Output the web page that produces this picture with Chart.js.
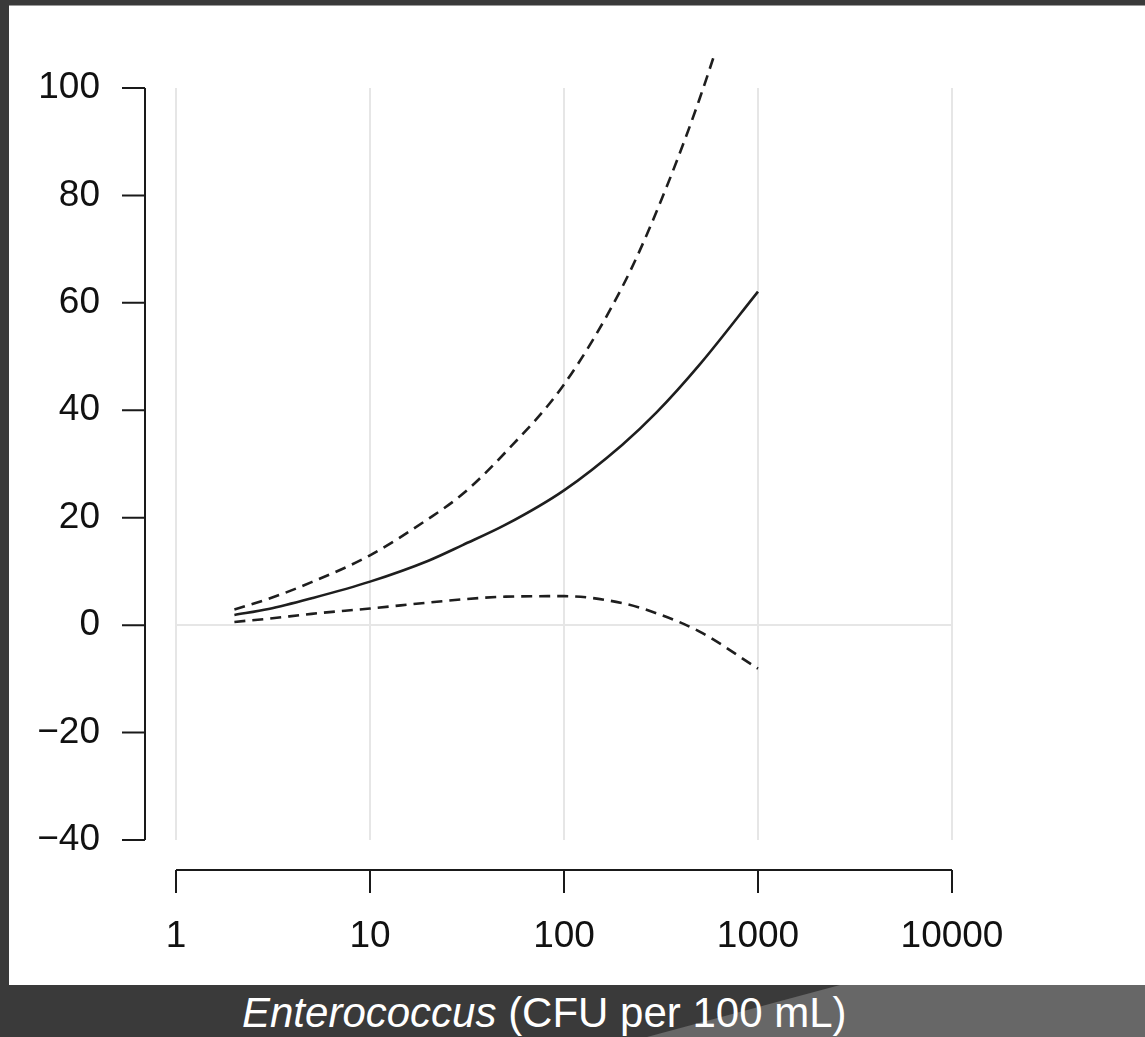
<!DOCTYPE html>
<html>
<head>
<meta charset="utf-8">
<script src="https://cdn.jsdelivr.net/npm/chart.js@4.4.1/dist/chart.umd.min.js"></script>
<style>
  html, body { margin: 0; padding: 0; }
  body { width: 1145px; height: 1037px; background: #3a3a3a; position: relative; overflow: hidden; }
  #panel { position: absolute; left: 9px; top: 5px; width: 1136px; height: 980px; background: #fff; border-top: 1px solid #9a9a9a; box-sizing: border-box; }
  #shade { position: absolute; left: 0; top: 985px; width: 1145px; height: 52px; background: #676767;
           clip-path: polygon(840px 0, 1145px 0, 1145px 52px, 647px 52px); }
  #xtitle { position: absolute; left: 242px; top: 992px; color: #fff; font: 42px "Liberation Sans", Arial, sans-serif; line-height: 42px; white-space: nowrap; }
  #chart { position: absolute; left: 0; top: 0; }
</style>
</head>
<body>
<div id="panel"></div>
<div id="shade"></div>
<div id="xtitle"><i>Enterococcus</i> (CFU per 100 mL)</div>
<canvas id="chart" width="1145" height="1037"></canvas>
<script>
// Enterococcus concentration (CFU per 100 mL), log axis
var xValues = [2, 3, 5, 10, 20, 30, 50, 100, 200, 300, 500, 1000];
// fitted curve and its confidence band
var estimate = [1.9, 3.0, 5.0, 8.1, 12.0, 14.9, 18.7, 25.1, 33.6, 39.6, 48.5, 62.1];
var upperCI = [2.9, 4.9, 8.0, 13.0, 19.8, 24.4, 32.2, 44.8, 63.0, 77.0, 98.0, 132.0];
var lowerCI = [0.6, 1.2, 2.1, 3.1, 4.2, 4.8, 5.3, 5.4, 4.1, 2.2, -1.2, -8.1];

var xTicks = [1, 10, 100, 1000, 10000];
var yTicks = [-40, -20, 0, 20, 40, 60, 80, 100];

function toPoints(ys) {
    return xValues.map(function (x, i) { return { x: x, y: ys[i] }; });
}

// R style detached axes, drawn from the chart's own scales
var rAxes = {
    id: 'rAxes',
    afterDraw: function (chart) {
        var ctx = chart.ctx, area = chart.chartArea;
        var xs = chart.scales.x, ys = chart.scales.y;
        var axisX = area.left - 31;
        var axisY = area.bottom + 30;
        var tick = 23;
        ctx.save();
        ctx.strokeStyle = '#1a1a1a';
        ctx.lineWidth = 2;
        ctx.beginPath();
        ctx.moveTo(axisX, ys.getPixelForValue(yTicks[0]));
        ctx.lineTo(axisX, ys.getPixelForValue(yTicks[yTicks.length - 1]));
        yTicks.forEach(function (v) {
            var p = ys.getPixelForValue(v);
            ctx.moveTo(axisX - tick, p);
            ctx.lineTo(axisX, p);
        });
        ctx.moveTo(xs.getPixelForValue(xTicks[0]), axisY);
        ctx.lineTo(xs.getPixelForValue(xTicks[xTicks.length - 1]), axisY);
        xTicks.forEach(function (v) {
            var p = xs.getPixelForValue(v);
            ctx.moveTo(p, axisY);
            ctx.lineTo(p, axisY + tick);
        });
        ctx.stroke();
        ctx.restore();
    }
};

var lineStyle = {
    borderColor: '#1e1e1e',
    borderWidth: 2.6,
    pointRadius: 0,
    cubicInterpolationMode: 'monotone'
};

var ctx = document.getElementById('chart').getContext('2d');
var chart = new Chart(ctx, {
    type: 'line',
    data: {
        datasets: [
            Object.assign({ label: 'Upper', data: toPoints(upperCI), borderDash: [11, 7],
                clip: { left: 40, top: 30, right: 40, bottom: 40 } }, lineStyle),
            Object.assign({ label: 'Estimate', data: toPoints(estimate) }, lineStyle),
            Object.assign({ label: 'Lower', data: toPoints(lowerCI), borderDash: [11, 7] }, lineStyle)
        ]
    },
    options: {
        responsive: false,
        animation: false,
        layout: { padding: { left: 0, top: 88, right: 193, bottom: 0 } },
        plugins: {
            legend: { display: false },
            tooltip: { enabled: false }
        },
        scales: {
            x: {
                type: 'logarithmic',
                min: 1,
                max: 10000,
                afterBuildTicks: function (scale) {
                    scale.ticks = xTicks.map(function (v) { return { value: v }; });
                },
                afterFit: function (scale) { scale.height = 197; },
                grid: { color: '#e6e6e6', lineWidth: 2, drawTicks: true, tickLength: 75, tickColor: 'rgba(0,0,0,0)' },
                border: { display: false },
                ticks: {
                    color: '#111',
                    padding: 0,
                    maxRotation: 0,
                    autoSkip: false,
                    font: { family: 'Liberation Sans', size: 37 },
                    callback: function (v) { return String(v); }
                }
            },
            y: {
                min: -40,
                max: 100,
                afterBuildTicks: function (scale) {
                    scale.ticks = yTicks.map(function (v) { return { value: v }; });
                },
                afterFit: function (scale) { scale.width = 176; },
                grid: {
                    color: function (c) { return c.tick && c.tick.value === 0 ? '#e6e6e6' : 'rgba(0,0,0,0)'; },
                    lineWidth: 2,
                    drawTicks: true,
                    tickLength: 76,
                    tickColor: 'rgba(0,0,0,0)'
                },
                border: { display: false },
                ticks: {
                    color: '#111',
                    padding: 0,
                    font: { family: 'Liberation Sans', size: 37 },
                    callback: function (v) { return String(v).replace('-', '\u2212'); }
                }
            }
        }
    },
    plugins: [rAxes]
});
</script>
</body>
</html>
